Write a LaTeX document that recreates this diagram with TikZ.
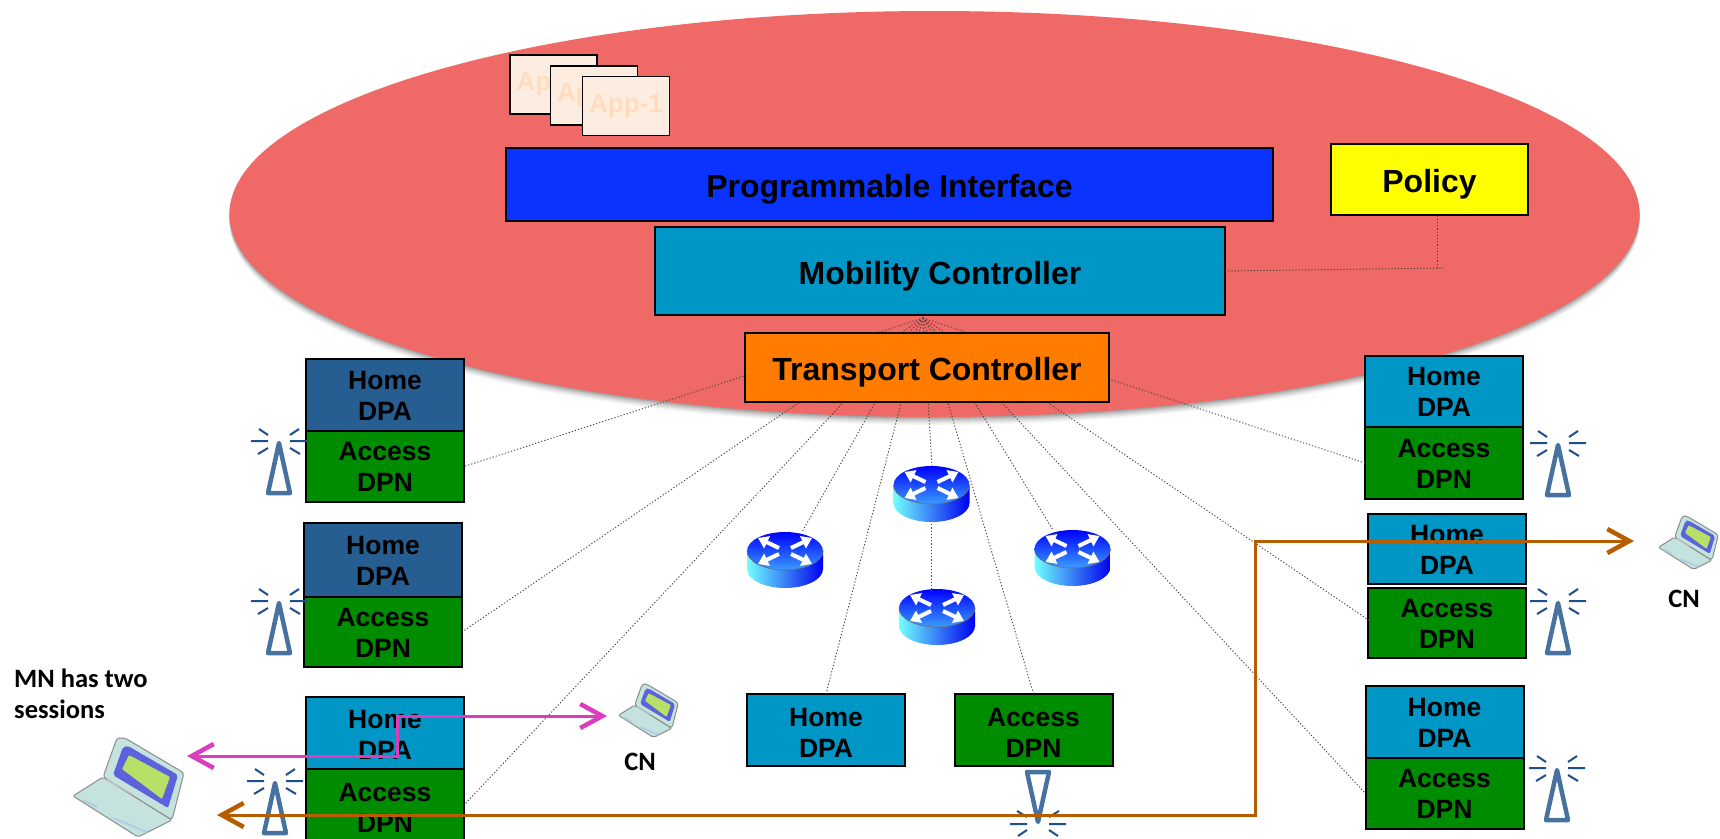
\documentclass[tikz,border=0pt]{standalone}
\usepackage{fontspec}
\setmainfont{Liberation Sans}
\newfontfamily\calib{Carlito}
\usetikzlibrary{arrows.meta}
\definecolor{blob}{HTML}{EF6966}
\definecolor{hblue}{HTML}{0097C6}
\definecolor{hdark}{HTML}{265E92}
\definecolor{agreen}{HTML}{008C00}
\definecolor{pblue}{HTML}{0A33FF}
\definecolor{torange}{HTML}{FF7C00}
\definecolor{pyellow}{HTML}{FFFF00}
\definecolor{appbg}{HTML}{FDEDE0}
\definecolor{apptx}{HTML}{FFDCBE}
\definecolor{antc}{HTML}{47729F}
\definecolor{rayc}{HTML}{1F4E8C}
\definecolor{mag}{HTML}{DC3CBE}
\definecolor{brn}{HTML}{B85C00}
\definecolor{lapb}{HTML}{C5E3DE}
\definecolor{lapk}{HTML}{B4CDE6}
\definecolor{lapf}{HTML}{5B62DB}
\definecolor{lapg}{HTML}{B8E068}
\definecolor{rtop}{HTML}{0000FF}
\definecolor{rbot}{HTML}{3A9CFF}
\definecolor{rcy}{HTML}{70FFFF}
\definecolor{rmid}{HTML}{3090FF}
\definecolor{rrt}{HTML}{0000F0}
\tikzset{
  bx/.style={draw=black,line width=2pt,inner sep=0pt,outer sep=0pt,align=center,text=black},
  stackbox/.style={bx,minimum width=158pt,minimum height=72pt,text height=50pt,text depth=0pt,font=\fontsize{26.5}{31}\selectfont\bfseries},
  homebox/.style={stackbox,fill=hblue},
  homedark/.style={stackbox,fill=hdark},
  accbox/.style={stackbox,fill=agreen},
  lowtext/.style={text height=54pt},
  bigbox/.style={bx,text height=26pt,text depth=0pt,font=\fontsize{32}{38}\selectfont\bfseries},
  appbox/.style={bx,draw=black,line width=1.6pt,fill=appbg,text=apptx,minimum width=87pt,minimum height=59pt,font=\fontsize{26}{30}\selectfont\bfseries},
  ctl/.style={draw=black!75,line width=0.9pt,dash pattern=on 1.2pt off 2pt},
  lbl/.style={inner sep=0pt,align=left,font=\calib\fontsize{26.5}{31}\selectfont\bfseries},
  flowm/.style={draw=mag,line width=3pt,{Straight Barb[length=22pt,width=24pt,line width=4.5pt]}-{Straight Barb[length=22pt,width=24pt,line width=4.5pt]}},
  flowb/.style={draw=brn,line width=3pt,{Straight Barb[length=22pt,width=24pt,line width=4.5pt]}-{Straight Barb[length=22pt,width=24pt,line width=4.5pt]}},
  wa/.style={draw=white,line width=4pt,-{Triangle[length=10pt,width=13pt]}}
}
\newcommand{\antennamark}[3]{%
\begin{scope}[shift={(#1,#2)},yscale=#3]
  \draw[antc,line width=4.5pt,line join=round] (0,0) -- (-11,50) -- (11,50) -- cycle;
  \draw[rayc,line width=2pt] (-28,-2) -- (-11,-2) (11,-2) -- (28,-2)
     (-20,-14) -- (-11,-8) (11,-8) -- (20,-14)
     (-21,11) -- (-11,5) (11,5) -- (21,11);
\end{scope}}
\newcommand{\laptopmark}[3]{%
\begin{scope}[shift={(#1,#2)},xscale=#3,yscale=#3]
  \filldraw[fill=lapb,draw=black!45,line width=1pt,line join=round,rounded corners=2pt] (-1,58) -- (29,39) -- (98,82) -- (64,99) -- cycle;
  \filldraw[fill=lapb,draw=black!45,line width=1pt,line join=round,rounded corners=3pt] (43,0) -- (51,0) -- (110,35) -- (98,82) -- (29,39) -- cycle;
  \fill[lapf,rounded corners=2pt] (49,9) -- (54,8) -- (104,37) -- (94,70) -- (39,37) -- cycle;
  \fill[lapg,rounded corners=1pt] (55,17) -- (96,39) -- (88,61) -- (48,31) -- cycle;
  \draw[black!25,line width=1.5pt] (33,42) -- (58,56);
  \draw[lapk,line width=2pt] (9,62) -- (23,69) (39,80) -- (73,94);
\end{scope}}
\newcommand{\routermark}[2]{%
\begin{scope}[shift={(#1,#2)}]
  \shade[left color=rcy,middle color=rmid,right color=rrt]
    (-38,0) -- (-38,18) .. controls (-38,28.5) and (-21,37) .. (0,37)
    .. controls (21,37) and (38,28.5) .. (38,18) -- (38,0)
    .. controls (38,10.5) and (21,19) .. (0,19) .. controls (-21,19) and (-38,10.5) .. (-38,0) -- cycle;
  \shade[top color=rtop,bottom color=rbot]
    (-38,0) .. controls (-38,-10.5) and (-21,-19) .. (0,-19)
    .. controls (21,-19) and (38,-10.5) .. (38,0)
    .. controls (38,10.5) and (21,19) .. (0,19) .. controls (-21,19) and (-38,10.5) .. (-38,0) -- cycle;
  \draw[black!60,line width=.6pt] (-38,0) .. controls (-38,10.5) and (-21,19) .. (0,19) .. controls (21,19) and (38,10.5) .. (38,0);
  \draw[wa] (-6,-3) -- (-27,-13);
  \draw[wa] (6,-3) -- (27,-13);
  \draw[wa] (-6,3) -- (-27,13);
  \draw[wa] (6,3) -- (27,13);
\end{scope}}
\begin{document}
\begin{tikzpicture}[x=1pt,y=-1pt]
\useasboundingbox (0,0) rectangle (1720,838);
\clip (0,0) rectangle (1720,838);
\fill[white] (0,0) rectangle (1720,838);
% cloud with soft shadow
\foreach \o/\g in {8/3,7/6,6/10,5/14,4/19,3/24,2/30,1/36}
  \fill[black!\g] (934.5,214+\o) ellipse [x radius=705pt,y radius=203pt];
\fill[blob] (934.5,214) ellipse [x radius=705pt,y radius=203pt];
% apps
\node[appbox] (app3) at (553.5,84.5) {App-1};
\node[appbox] (app2) at (594,95.5) {App-1};
\node[appbox] (app1) at (626,106) {App-1};
% controllers
\node[bigbox,fill=pblue,minimum width=767pt,minimum height=73pt] (prog) at (889.5,184.5) {Programmable Interface};
\node[bigbox,fill=hblue,minimum width=570pt,minimum height=88pt] (mob) at (940,271) {Mobility Controller};
\node[bigbox,fill=pyellow,minimum width=197pt,minimum height=71pt] (pol) at (1429.5,179.5) {Policy};
% named points
\coordinate (hub) at (923,318);
\coordinate (elbow) at (1444,268);
\coordinate (pola) at (1437,268);
\coordinate (polin) at (1437,215);
\coordinate (r1in) at (802,532);
\coordinate (r2in) at (932,466);
\coordinate (r2out) at (931,521);
\coordinate (r3in) at (1053,530);
\coordinate (r4in) at (931,589);
% stacks
\node[homedark] (lh1) at (385,395) {Home\\DPA};
\node[accbox,minimum height=71pt] (la1) at (385,466.5) {Access\\DPN};
\node[homedark,minimum height=74pt] (lh2) at (383,560) {Home\\DPA};
\node[accbox,minimum height=70pt] (la2) at (383,632) {Access\\DPN};
\node[homebox,lowtext] (lh3) at (385,732.5) {Home\\DPA};
\node[accbox,lowtext] (la3) at (385,805) {Access\\DPN};
\node[homebox,minimum height=71pt] (rh1) at (1444,391.5) {Home\\DPA};
\node[accbox] (ra1) at (1444,463) {Access\\DPN};
\node[homebox,minimum height=70.5pt] (rh2) at (1447,549) {Home\\DPA};
\node[accbox,minimum height=70.5pt] (ra2) at (1447,623) {Access\\DPN};
\node[homebox] (rh3) at (1444.5,722) {Home\\DPA};
\node[accbox,minimum height=71pt] (ra3) at (1444.5,793.5) {Access\\DPN};
\node[homebox,lowtext] (ch) at (826,730) {Home\\DPA};
\node[accbox,lowtext] (ca) at (1033.5,730) {Access\\DPN};
% controller links
\draw[ctl] (hub) -- (la1.east);
\draw[ctl] (hub) -- (la2.east);
\draw[ctl] (hub) -- (la3.east);
\draw[ctl] (hub) -- (r1in);
\draw[ctl] (hub) -- (ch.north);
\draw[ctl] (hub) -- (r2in);
\draw[ctl] (r2out) -- (r4in);
\draw[ctl] (hub) -- (ca.north);
\draw[ctl] (hub) -- (r3in);
\draw[ctl] (hub) -- (ra1.west);
\draw[ctl] (hub) -- ([xshift=5pt]ra2.west);
\draw[ctl] (hub) -- (ra3.west);
\draw[ctl] (mob.east) -- (elbow);
\draw[ctl] (pola) -- (polin);
\node[bigbox,fill=torange,minimum width=364pt,minimum height=69pt] (trans) at (927,367.5) {Transport Controller};
% routers
\routermark{785}{551}
\routermark{931.5}{485}
\routermark{1072.5}{549}
\routermark{937}{608}
% antennas
\antennamark{279}{443}{1}
\antennamark{279}{603}{1}
\antennamark{275}{783}{1}
\antennamark{1558}{445}{1}
\antennamark{1558}{603}{1}
\antennamark{1557}{770}{1}
\antennamark{1038}{822}{-1}
% laptops
\laptopmark{74}{738}{1}
\laptopmark{619}{684}{0.54}
\laptopmark{1659}{516}{0.54}
% labels
\node[lbl,anchor=west] (mn) at (14,694) {MN has two\\sessions};
\node[lbl,anchor=center] (cn1) at (640,762) {CN};
\node[lbl,anchor=center] (cn2) at (1684,599) {CN};
% sessions
\coordinate (mtip1) at (607,716);
\coordinate (m1) at (397,716);
\coordinate (m2) at (397,756);
\coordinate (mtip2) at (187,756);
\draw[flowm,line join=miter] (mtip1) -- (m1) -- (m2) -- (mtip2);
\coordinate (btip1) at (217,815);
\coordinate (b1) at (1255,815);
\coordinate (b2) at (1255,541);
\coordinate (btip2) at (1634,541);
\draw[flowb] (btip1) -- (b1) -- (b2) -- (btip2);
\end{tikzpicture}
\end{document}
